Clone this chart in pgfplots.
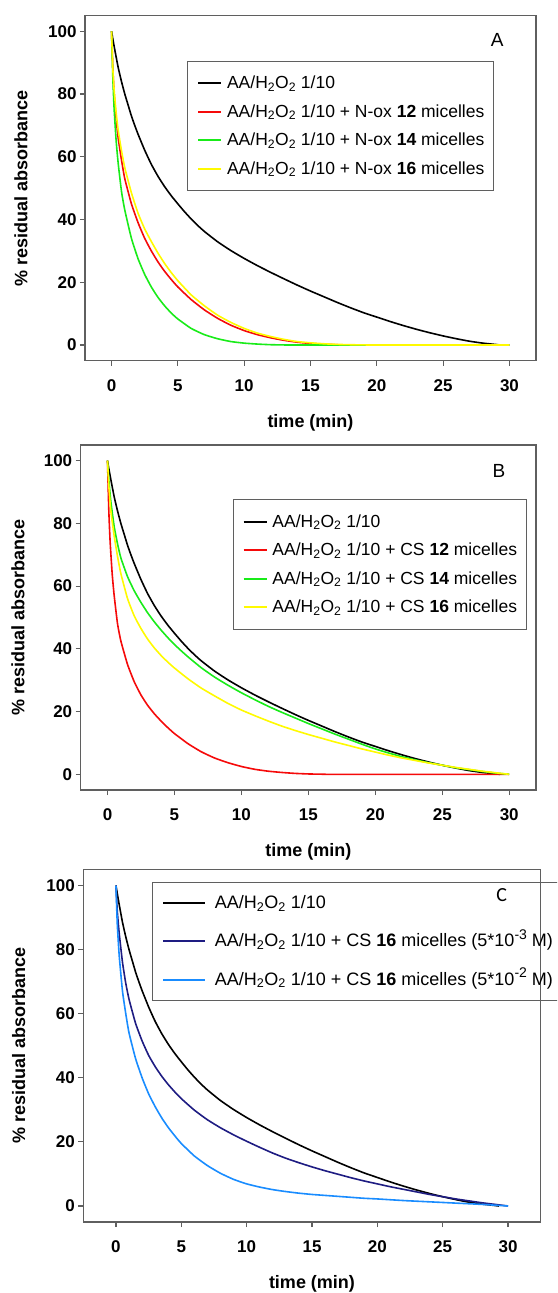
\documentclass[border=0pt]{standalone}
\usepackage{pgfplots}
\pgfplotsset{compat=1.18}
\usepackage{fontspec}
\setmainfont{Liberation Sans}
\setsansfont{Liberation Sans}
\newfontfamily\cfont{Carlito}
\definecolor{cred}{RGB}{245,10,10}
\definecolor{cgreen}{RGB}{25,235,25}
\definecolor{cyellow}{RGB}{255,250,0}
\definecolor{cnavy}{RGB}{30,28,130}
\definecolor{clblue}{RGB}{25,140,255}
\definecolor{cframe}{RGB}{95,95,95}
\newcommand{\hto}{AA/H\textsubscript{2}O\textsubscript{2} 1/10}
\newcommand{\mysup}[1]{\raisebox{0.42em}{\fontsize{14}{14}\selectfont #1}}

\pgfplotstableread{
t y
0 100
0.1 97.5
0.25 94
0.5 88.5
0.75 84
1 80
1.25 76.5
1.5 73
1.75 70
2 67.2
2.5 62.1
3 57.6
3.5 53.8
4 50.5
4.5 47.6
5 45
5.5 42.5
6 40.2
6.5 38.1
7 36.2
8 32.9
9 30.1
10 27.6
11 25.3
12 23.15
13 21.1
14 19.1
15 17.2
16 15.4
17 13.6
18 11.9
19 10.3
20 8.9
21 7.5
22 6.2
23 5
24 3.9
25 2.9
26 2
27 1.2
28 0.6
29 0.15
29.3 0
}\blackdata

\pgfplotsset{
  panel/.style={
    scale only axis,
    xmin=-2, xmax=32, ymin=-5, ymax=105,
    xtick={0,5,...,30}, ytick={0,20,...,100},
    tick pos=left, tick align=outside,
    major tick length=5pt,
    axis line style={draw=cframe, line width=1.1pt},
    every tick/.style={draw=cframe, line width=1.1pt},
    /pgf/number format/assume math mode=true,
    ticklabel style={font=\bfseries\fontsize{17}{20}\selectfont},
    xticklabel={\raisebox{-10pt}[12.2pt][0pt]{\pgfmathprintnumber{\tick}}},
    label style={font=\bfseries\fontsize{18}{21}\selectfont},
    xlabel={time (min)},
    ylabel={\% residual absorbance},
    xlabel style={at={(axis description cs:0.5,0)}, anchor=center, yshift=-62pt},
    legend cell align=left,
    legend image code/.code={\draw[##1, line width=1.8pt] (0pt,0pt) -- (23pt,0pt);},
    legend style={draw=cframe, line width=0.9pt, fill=none,
      font=\fontsize{17.5}{20}\selectfont,
      inner xsep=9.5pt, inner ysep=14.5pt, row sep=13.5pt, column sep=5pt,
      nodes={inner sep=0pt, text height=13pt, text depth=2pt}},
    every axis plot/.append style={line width=1.6pt, no markers, smooth, tension=0.3},
  },
}

\begin{document}
\begin{tikzpicture}
\useasboundingbox (0pt,0pt) rectangle (557pt,-1293pt);
\clip (0pt,0pt) rectangle (557pt,-1293pt);

% ---------------- Panel A ----------------
\begin{axis}[panel, at={(85pt,-360.7pt)}, anchor=south west,
  width=451pt, height=345.1pt,
  ylabel style={at={(axis description cs:-0.1419,0.5)}, anchor=center},
  legend style={at={(axis description cs:0.2268,0.8693)}, anchor=north west}]
\addplot[black] table[x=t,y=y] {\blackdata};
\addlegendentry{\hto}
\addplot[cred] coordinates {(0,100) (0.1,88) (0.2,80) (0.35,72) (0.5,66) (0.75,59) (1,53) (1.5,45) (2,39) (2.5,34) (3,30) (3.5,26.5) (4,23.5) (4.5,20.9) (5,18.5) (6,14.5) (7,11.2) (8,8.5) (9,6.3) (10,4.6) (11,3.3) (12,2.3) (13,1.5) (14,0.9) (15,0.5) (16,0.25) (17,0.1) (18,0) (30,0)};
\addlegendentry{\hto{} + N-ox \textbf{12} micelles}
\addplot[cgreen] coordinates {(0,100) (0.1,85) (0.2,75) (0.35,65) (0.5,58) (0.75,49) (1,43) (1.5,34) (2,27.5) (2.5,22.5) (3,18.5) (3.5,15.2) (4,12.5) (4.5,10.2) (5,8.3) (6,5.3) (7,3.3) (8,2) (9,1.1) (10,0.6) (11,0.3) (12,0.1) (13,0.03) (14,0) (30,0)};
\addlegendentry{\hto{} + N-ox \textbf{14} micelles}
\addplot[cyellow] coordinates {(0,100) (0.1,88) (0.2,81) (0.35,74) (0.5,68.5) (0.75,62) (1,56.5) (1.5,48.5) (2,42) (2.5,37) (3,33) (3.5,29.3) (4,26) (4.5,23.1) (5,20.5) (6,16) (7,12.5) (8,9.5) (9,7.2) (10,5.3) (11,3.8) (12,2.7) (13,1.8) (14,1.1) (15,0.7) (16,0.4) (17,0.2) (18,0.1) (20,0) (30,0)};
\addlegendentry{\hto{} + N-ox \textbf{16} micelles}
\end{axis}

% ---------------- Panel B ----------------
\begin{axis}[panel, at={(80.7pt,-790pt)}, anchor=south west,
  width=455.3pt, height=345pt,
  ylabel style={at={(axis description cs:-0.1381,0.5)}, anchor=center},
  legend style={at={(axis description cs:0.3338,0.8426)}, anchor=north west}]
\addplot[black] table[x=t,y=y] {\blackdata};
\addlegendentry{\hto}
\addplot[cred] coordinates {(0,100) (0.1,84) (0.2,74) (0.35,64) (0.5,57) (0.75,48) (1,42.5) (1.5,35) (2,29.5) (2.5,25.3) (3,22) (3.5,19.3) (4,17) (4.5,14.9) (5,13) (6,9.8) (7,7.2) (8,5.2) (9,3.7) (10,2.5) (11,1.6) (12,1) (13,0.6) (14,0.3) (15,0.12) (16,0.04) (17,0) (30,0)};
\addlegendentry{\hto{} + CS \textbf{12} micelles}
\addplot[cgreen] coordinates {(0,100) (0.1,94) (0.25,87) (0.5,79) (0.75,73.5) (1,69) (1.5,63) (2,58.5) (2.5,54.8) (3,51.5) (3.5,48.6) (4,46) (4.5,43.6) (5,41.4) (5.5,39.4) (6,37.5) (7,34) (8,31) (9,28.4) (10,26) (11,23.8) (12,21.7) (13,19.8) (14,18) (15,16.2) (16,14.5) (17,12.8) (18,11.2) (19,9.6) (20,8.1) (21,6.8) (22,5.6) (23,4.6) (24,3.7) (25,2.9) (26,2.1) (27,1.5) (28,0.9) (29,0.4) (30,0)};
\addlegendentry{\hto{} + CS \textbf{14} micelles}
\addplot[cyellow] coordinates {(0,100) (0.1,92) (0.25,84) (0.5,76) (0.75,69.5) (1,64) (1.5,56) (2,50.5) (2.5,46.5) (3,43.1) (3.5,40.3) (4,37.9) (4.5,35.8) (5,33.9) (6,30.5) (7,27.5) (8,25) (9,22.6) (10,20.5) (11,18.7) (12,17) (13,15.4) (14,14) (15,12.7) (16,11.5) (17,10.3) (18,9.2) (19,8.1) (20,7.1) (21,6.1) (22,5.2) (23,4.4) (24,3.6) (25,2.9) (26,2.2) (27,1.6) (28,1) (29,0.5) (30,0)};
\addlegendentry{\hto{} + CS \textbf{16} micelles}
\end{axis}

% ---------------- Panel C ----------------
\begin{axis}[panel, at={(83.3pt,-1222pt)}, anchor=south west,
  width=457.4pt, height=352.5pt, xmin=-2.5, xmax=32.5,
  ylabel style={at={(axis description cs:-0.1412,0.5)}, anchor=center},
  legend image code/.code={\draw[#1, line width=2pt] (0pt,0pt) -- (41.6pt,0pt);},
  legend style={at={(axis description cs:0.1509,0.9654)}, anchor=north west,
    font=\fontsize{18}{20}\selectfont,
    row sep=23.2pt, column sep=9pt, inner ysep=13.5pt}]
\addplot[black] table[x=t,y=y] {\blackdata};
\addlegendentry{\hto}
\addplot[cnavy] coordinates {(0,100) (0.1,92) (0.25,85) (0.5,76) (0.75,69.5) (1,64.5) (1.5,57) (2,51.5) (2.5,47) (3,43.5) (3.5,40.5) (4,37.9) (4.5,35.6) (5,33.5) (6,29.9) (7,26.9) (8,24.4) (9,22.2) (10,20.2) (11,18.3) (12,16.5) (13,14.9) (14,13.5) (15,12.2) (16,11) (17,9.9) (18,8.8) (19,7.8) (20,6.9) (21,6) (22,5.2) (23,4.4) (24,3.6) (25,2.9) (26,2.2) (27,1.6) (28,1) (29,0.5) (30,0)};
\addlegendentry{\hto{} + CS \textbf{16} micelles (5*10\mysup{-3} M)}
\addplot[clblue] coordinates {(0,100) (0.1,88) (0.25,78) (0.5,67) (0.75,60) (1,54) (1.5,46) (2,40) (2.5,35) (3,31) (3.5,27.5) (4,24.5) (4.5,21.9) (5,19.5) (6,15.6) (7,12.6) (8,10.2) (9,8.3) (10,6.9) (11,5.9) (12,5.1) (13,4.5) (14,4) (15,3.6) (16,3.3) (17,3) (18,2.7) (19,2.4) (20,2.2) (22,1.7) (24,1.3) (26,0.9) (28,0.5) (30,0)};
\addlegendentry{\hto{} + CS \textbf{16} micelles (5*10\mysup{-2} M)}
\end{axis}

\node[font=\fontsize{19}{22}\selectfont] at (497.3pt,-40pt) {A};
\node[font=\fontsize{19}{22}\selectfont] at (499pt,-470.7pt) {B};
\node[font=\cfont\fontsize{20}{22}\selectfont] at (501.7pt,-895pt) {C};
\end{tikzpicture}
\end{document}
